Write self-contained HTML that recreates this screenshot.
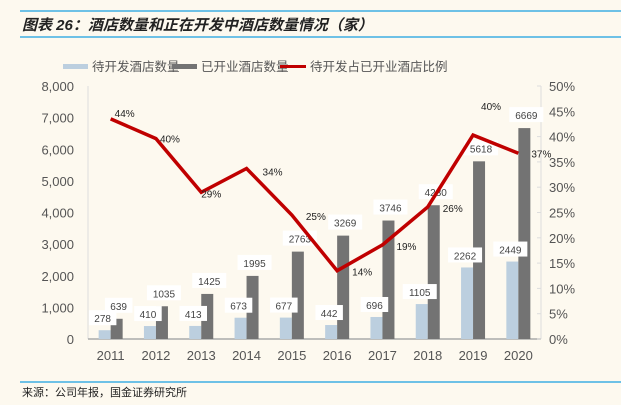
<!DOCTYPE html>
<html><head><meta charset="utf-8"><style>
body{margin:0;background:#fdf9ef;}
svg{display:block;font-family:"Liberation Sans","Noto Sans CJK SC",sans-serif;}
</style></head><body>
<svg id="chart" width="621" height="405" viewBox="0 0 621 405">
<rect x="0" y="0" width="621" height="405" fill="#fdf9ef"/>
<line x1="20" y1="11" x2="621" y2="11" stroke="#1aa0e0" stroke-width="1.2"/>
<text x="22" y="30" font-size="15" font-weight="bold" font-style="italic" fill="#222">图表 26：酒店数量和正在开发中酒店数量情况（家）</text>
<line x1="20" y1="37" x2="621" y2="37" stroke="#1aa0e0" stroke-width="1.2"/>
<g font-size="12.5" fill="#555">
<rect x="63" y="64" width="25" height="5" fill="#bccfdf"/>
<text x="92" y="71">待开发酒店数量</text>
<rect x="172" y="64" width="25" height="5" fill="#737373"/>
<text x="201" y="71">已开业酒店数量</text>
<line x1="280" y1="66.5" x2="306" y2="66.5" stroke="#c00000" stroke-width="3"/>
<text x="310" y="71">待开发占已开业酒店比例</text>
</g>
<g id="axes"></g>
<g id="marks"></g>
<line x1="20" y1="382" x2="621" y2="382" stroke="#1aa0e0" stroke-width="1.2"/>
<text x="22" y="396" font-size="11" fill="#222">来源：公司年报，国金证券研究所</text>
</svg>
<script>
const years=["2011","2012","2013","2014","2015","2016","2017","2018","2019","2020"];
const pipeline=[278,410,413,673,677,442,696,1105,2262,2449];
const opened=[639,1035,1425,1995,2763,3269,3746,4230,5618,6669];
const ratio=[43.5,39.6,29.0,33.7,24.5,13.5,18.6,26.1,40.3,36.7];
const ratioLabels=["44%","40%","29%","34%","25%","14%","19%","26%","40%","37%"];
const leftTicks=[0,1000,2000,3000,4000,5000,6000,7000,8000];
const rightTicks=[0,5,10,15,20,25,30,35,40,45,50];
const labelDx=[4,4,0,16,14,15,14,15,8,13];
const labelDy=[-6,0,1,3,1,1,1,1,-29,0];

const NS="http://www.w3.org/2000/svg";
const X0=88,X1=541,Y0=339,Y1=86;
const band=(X1-X0)/years.length;
const xc=i=>X0+band*(i+0.5);
const yL=v=>Y0-(v/8000)*(Y0-Y1);
const yR=v=>Y0-(v/50)*(Y0-Y1);
function mk(t,a,p){const e=document.createElementNS(NS,t);for(const k in a)e.setAttribute(k,a[k]);p.appendChild(e);return e;}
const axes=document.getElementById('axes'),marks=document.getElementById('marks');

let e=mk('line',{x1:X0,y1:Y1,x2:X0,y2:Y0,stroke:'#ddd'},axes);


e=mk('line',{x1:X1,y1:Y1,x2:X1,y2:Y0,stroke:'#ddd'},axes);


e=mk('line',{x1:X0,y1:Y0,x2:X1,y2:Y0,stroke:'#aaa','stroke-width':1.5},axes);


leftTicks.forEach(v=>{
  const t=mk('text',{x:74,y:yL(v)+5,'text-anchor':'end','font-size':13,fill:'#555'},axes);
  t.textContent=v.toLocaleString('en-US');
  
  
});
rightTicks.forEach(v=>{
  const t=mk('text',{x:549,y:yR(v)+5,'font-size':13,fill:'#555'},axes);
  t.textContent=v+'%';
  
  
  const k=mk('line',{x1:X1-4,y1:yR(v),x2:X1,y2:yR(v),stroke:'#ddd'},axes);
  
  
});
years.forEach((y,i)=>{
  const t=mk('text',{x:xc(i),y:360,'text-anchor':'middle','font-size':13,fill:'#555'},axes);
  t.textContent=y;
  
  
});
function valLabel(cx,top,txt){
  const w=txt.length*6.5+8;
  const r=mk('rect',{x:cx-w/2,y:top-22,width:w,height:15,fill:'#fff'},marks);
  
  
  const t=mk('text',{x:cx,y:top-10,'text-anchor':'middle','font-size':10,fill:'#444'},marks);
  t.textContent=txt;
  
  
}
years.forEach((y,i)=>{
  const b1=mk('rect',{x:xc(i)-12,y:yL(pipeline[i]),width:12,height:Y0-yL(pipeline[i]),fill:'#bccfdf'},marks);
  
  
  const b2=mk('rect',{x:xc(i),y:yL(opened[i]),width:12,height:Y0-yL(opened[i]),fill:'#737373'},marks);
  
  
});
years.forEach((y,i)=>{
  valLabel(xc(i)-8,yL(pipeline[i])+2,String(pipeline[i]));
  valLabel(xc(i)+8,yL(opened[i])+1,String(opened[i]));
});
const pts=ratio.map((v,i)=>xc(i)+','+yR(v)).join(' ');
e=mk('polyline',{points:pts,fill:'none',stroke:'#c00000','stroke-width':3.5,'stroke-linejoin':'miter'},marks);


ratio.forEach((v,i)=>{
  const t=mk('text',{x:xc(i)+labelDx[i],y:yR(v)+labelDy[i]+4,'font-size':10,fill:'#222'},marks);
  t.textContent=ratioLabels[i];
  
  
});
</script>
</body></html>
